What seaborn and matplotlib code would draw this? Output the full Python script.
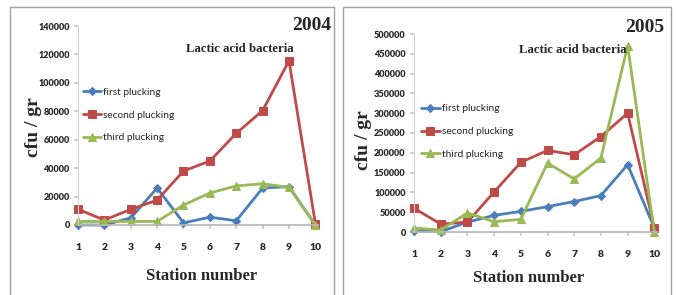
import pandas as pd
import matplotlib.pyplot as plt
import seaborn as sns
from matplotlib.patches import Rectangle

stations = [1, 2, 3, 4, 5, 6, 7, 8, 9, 10]
series_names = ["first plucking", "second plucking", "third plucking"]

first_2004 = [0, 0, 5000, 26000, 1500, 5500, 3000, 26000, 27000, 0]
second_2004 = [11000, 3500, 11000, 17500, 38000, 45000, 64500, 80500, 115500, 1000]
third_2004 = [2500, 2500, 2500, 2500, 14000, 22500, 27500, 29000, 26500, 0]

first_2005 = [2000, 1000, 25000, 42000, 52000, 64000, 77000, 92000, 170000, 10000]
second_2005 = [60000, 20000, 25000, 101000, 176000, 206000, 195000, 241000, 300000, 11000]
third_2005 = [10000, 5000, 48000, 26000, 32000, 174000, 134000, 187000, 470000, 0]

colors = ["#4A7EBB", "#BE4B48", "#98B954"]
markers = ["D", "s", "^"]
msizes = [4, 5.5, 6]

TICK_FONT = "Lato"
SERIF = "Liberation Serif"


def make_df(first, second, third):
    rows = []
    for name, vals in zip(series_names, [first, second, third]):
        for s, v in zip(stations, vals):
            rows.append({"Station": s, "cfu": v, "Series": name})
    return pd.DataFrame(rows)


def draw_panel(fig, rect, df, ymax, ystep, year, texts):
    ax = fig.add_axes(rect)
    for name, c, m, ms in zip(series_names, colors, markers, msizes):
        sub = df[df["Series"] == name]
        sns.lineplot(data=sub, x="Station", y="cfu", ax=ax, color=c, marker=m,
                     markersize=ms, markeredgecolor=c, linewidth=2, label=name,
                     clip_on=False)
    ax.set_xlim(1, 10.1)
    ax.set_ylim(0, ymax)
    ax.set_xticks(stations)
    ax.set_yticks(range(0, ymax + 1, ystep))
    ax.set_xlabel("")
    ax.set_ylabel("")
    for sp in ["top", "right"]:
        ax.spines[sp].set_visible(False)
    ax.spines["bottom"].set_color("#B8B8B8")
    ax.spines["left"].set_color("#D0D0D0")
    ax.spines["left"].set_linewidth(0.8)
    ax.tick_params(axis="y", left=True, length=3, color="#C8C8C8", pad=3,
                   labelsize=6.6)
    ax.tick_params(axis="x", bottom=True, length=3, color="#C8C8C8", pad=10,
                   labelsize=7.5)
    for lab in ax.get_xticklabels() + ax.get_yticklabels():
        lab.set_fontweight("heavy")
        lab.set_fontfamily(TICK_FONT)
        lab.set_color("#2A2A2A")
    leg = ax.legend(loc="upper left", bbox_to_anchor=texts["leg"], frameon=False,
                    fontsize=7.3, handlelength=1.8, labelspacing=1.35,
                    handletextpad=0.2, borderpad=0, borderaxespad=0)
    for t in leg.get_texts():
        t.set_fontfamily(TICK_FONT)
        t.set_color("#222222")

    fx, fy = texts["year"]
    fig.text(fx, fy, year, ha="center", va="center", fontsize=14,
             fontweight="bold", fontfamily=SERIF)
    fx, fy = texts["title"]
    fig.text(fx, fy, "Lactic acid bacteria", ha="center", va="center",
             fontsize=9.2, fontweight="bold", fontfamily=SERIF)
    fx, fy = texts["ylab"]
    fig.text(fx, fy, "cfu / gr", ha="center", va="center", rotation=90,
             fontsize=14, fontweight="bold", fontfamily=SERIF)
    fx, fy = texts["xlab"]
    fig.text(fx, fy, "Station number", ha="center", va="center",
             fontsize=12, fontweight="bold", fontfamily=SERIF)
    return ax


sns.set_theme(style="white")
W, H = 676, 295
fig = plt.figure(figsize=(W / 100, H / 100), dpi=100)


def fr(x0, y_top, x1, y_bot):
    return [x0 / W, 1 - y_bot / H, (x1 - x0) / W, (y_bot - y_top) / H]


def pt(x, y):
    return (x / W, 1 - y / H)


# panel borders
fig.patches.append(Rectangle((10 / W, -0.01), 324 / W, 1 - 7 / H + 0.01,
                             transform=fig.transFigure, fill=False,
                             edgecolor="#A0A0A0", linewidth=1))
fig.patches.append(Rectangle((343 / W, -0.01), 328 / W, 1 - 7 / H + 0.01,
                             transform=fig.transFigure, fill=False,
                             edgecolor="#A0A0A0", linewidth=1))

df04 = make_df(first_2004, second_2004, third_2004)
df05 = make_df(first_2005, second_2005, third_2005)

draw_panel(fig, fr(78, 26, 318, 225), df04, 140000, 20000, "2004",
           {"leg": (0.02, 0.69), "year": pt(312, 25), "title": pt(240, 49),
            "ylab": pt(33, 127), "xlab": pt(202, 276)})
draw_panel(fig, fr(414, 34, 657, 232), df05, 500000, 50000, "2005",
           {"leg": (0.03, 0.645), "year": pt(645, 27), "title": pt(573, 50),
            "ylab": pt(364, 140), "xlab": pt(529, 278)})

fig.savefig("out.png", dpi=100)
